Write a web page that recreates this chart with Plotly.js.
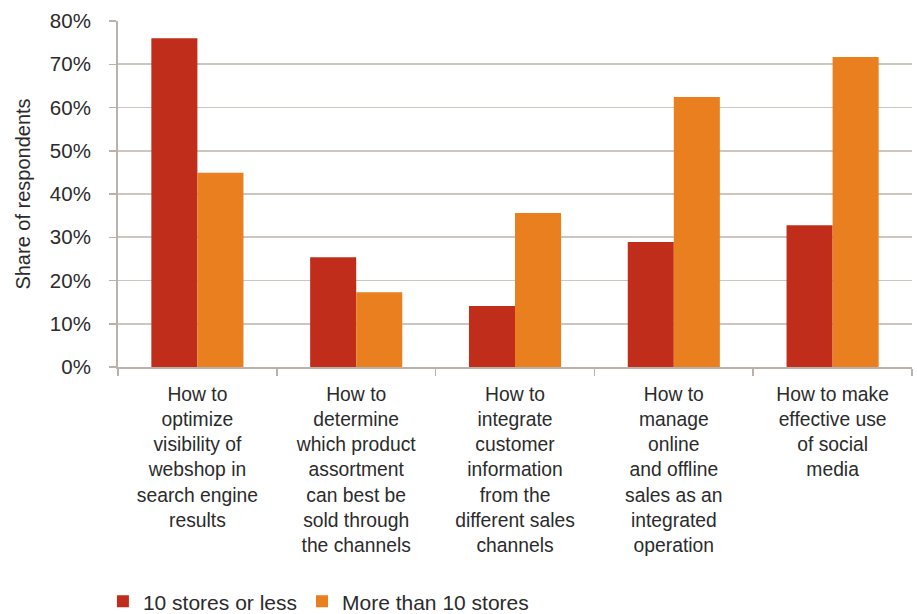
<!DOCTYPE html>
<html>
<head>
<meta charset="utf-8">
<script src="https://cdn.plot.ly/plotly-3.0.1.min.js"></script>
<style>html,body{margin:0;padding:0;background:#fff;}#chart{width:917px;height:614px;}</style>
</head>
<body>
<div id="chart"></div>
<script>
const categories = [
  "How to<br>optimize<br>visibility of<br>webshop in<br>search engine<br>results",
  "How to<br>determine<br>which product<br>assortment<br>can best be<br>sold through<br>the channels",
  "How to<br>integrate<br>customer<br>information<br>from the<br>different sales<br>channels",
  "How to<br>manage<br>online<br>and offline<br>sales as an<br>integrated<br>operation",
  "How to make<br>effective use<br>of social<br>media"
];
const seriesNames = ["10 stores or less", "More than 10 stores"];
const smallChains = [0.76, 0.254, 0.141, 0.289, 0.328];
const largeChains = [0.449, 0.173, 0.356, 0.624, 0.717];
const yTickVals = [0, 0.1, 0.2, 0.3, 0.4, 0.5, 0.6, 0.7, 0.8];
const yTickText = ["0%", "10%", "20%", "30%", "40%", "50%", "60%", "70%", "80%"];

const font = "Liberation Sans, Arial, Helvetica, sans-serif";
const textColor = "#2b2b2b";
const axisColor = "#b9b1aa";
const gridColor = "#cdc6bf";

const data = [
  {type: "bar", name: seriesNames[0], x: categories, y: smallChains,
   marker: {color: "#c02d1a"}, hoverinfo: "skip"},
  {type: "bar", name: seriesNames[1], x: categories, y: largeChains,
   marker: {color: "#e97f1e"}, hoverinfo: "skip"}
];

const layout = {
  width: 917, height: 614,
  margin: {l: 118, r: 5, t: 21, b: 247},
  paper_bgcolor: "#fff", plot_bgcolor: "#fff",
  barmode: "group", bargap: 0.42, bargroupgap: 0,
  font: {family: font, color: textColor, size: 19},
  showlegend: true,
  legend: {orientation: "h", xref: "paper", x: -0.019, xanchor: "left",
           yref: "container", y: 0.02, yanchor: "middle",
           font: {size: 21, color: textColor}, tracegroupgap: 0,
           traceorder: "normal"},
  xaxis: {
    type: "category", tickson: "boundaries", ticks: "outside", ticklen: 7,
    tickwidth: 1.5, tickcolor: axisColor,
    showline: true, linecolor: axisColor, linewidth: 2,
    showgrid: false, tickangle: 0, ticklabelstandoff: 9,
    tickfont: {size: 19.3, color: textColor}, automargin: false
  },
  yaxis: {
    range: [0, 0.8], tickvals: yTickVals, ticktext: yTickText,
    ticks: "outside", ticklen: 7, tickwidth: 1.5, tickcolor: axisColor,
    showline: true, linecolor: axisColor, linewidth: 2,
    showgrid: true, gridcolor: gridColor, gridwidth: 1.6,
    zeroline: false, ticklabelstandoff: 14,
    tickfont: {size: 20.5, color: textColor}, automargin: false,
    title: {text: "Share of respondents", font: {size: 20, color: textColor}, standoff: 14}
  }
};

Plotly.newPlot("chart", data, layout, {displayModeBar: false, staticPlot: true});
</script>
</body>
</html>
